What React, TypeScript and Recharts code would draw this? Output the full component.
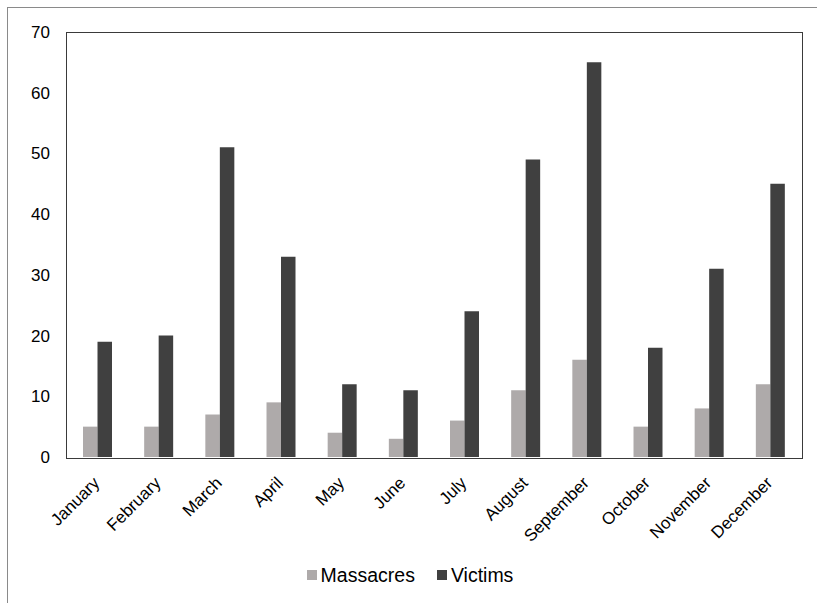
import { BarChart, Bar, XAxis, YAxis, Legend } from 'recharts';

const months = ['January', 'February', 'March', 'April', 'May', 'June', 'July', 'August', 'September', 'October', 'November', 'December'];
const massacres = [5, 5, 7, 9, 4, 3, 6, 11, 16, 5, 8, 12];
const victims = [19, 20, 51, 33, 12, 11, 24, 49, 65, 18, 31, 45];
const yTicks = [0, 10, 20, 30, 40, 50, 60, 70];

const data = months.map((month, i) => ({ month, massacres: massacres[i], victims: victims[i] }));

const font = 'Liberation Sans, Arial, sans-serif';
const frame = '#3a3a3a';

// plot box: left 67, top 32, right 801, bottom 457
const margin = { top: 32, right: 16, bottom: 16, left: 0 };

function MonthTick({ x, y, payload }: any) {
  return (
    <g transform={`translate(${x + 3},${y + 19})`}>
      <text x={0} y={0} textAnchor="end" fill="#000" fontSize={17} fontFamily={font} transform="rotate(-45)">
        {payload.value}
      </text>
    </g>
  );
}

function LegendRow({ payload }: any) {
  return (
    <div style={{ display: 'flex', justifyContent: 'center', gap: 22, paddingLeft: 19, height: 24, alignItems: 'center' }}>
      {(payload || []).map((item: any) => (
        <div key={item.value} style={{ display: 'flex', alignItems: 'center', gap: 4 }}>
          <span style={{ width: 10, height: 10, background: item.color, display: 'inline-block' }} />
          <span style={{ color: '#000', fontSize: 19.5, fontFamily: font, lineHeight: '24px' }}>{item.value}</span>
        </div>
      ))}
    </div>
  );
}

export default function App() {
  return (
    <div style={{ position: 'absolute', left: 0, top: 0, width: 817, height: 603, overflow: 'hidden', background: '#fff' }}>
      {/* outer chart frame, runs off the right and bottom edges */}
      <div style={{ position: 'absolute', left: 7, top: 7, width: 900, height: 700, border: '1px solid #8a8a8a' }} />
      <div style={{ position: 'absolute', left: 0, top: 0 }}>
        <BarChart width={817} height={603} data={data} margin={margin} barGap={0} barSize={14.5}>
          <XAxis dataKey="month" interval={0} tickLine={false} axisLine={false} height={106} tick={<MonthTick />} />
          <YAxis domain={[0, 70]} ticks={yTicks} width={67} tickSize={0} tickMargin={17} axisLine={false} tick={{ fill: '#000', fontSize: 17, fontFamily: font }} />
          <Legend verticalAlign="bottom" content={<LegendRow />} />
          <Bar dataKey="massacres" name="Massacres" fill="#aeaaaa" isAnimationActive={false} />
          <Bar dataKey="victims" name="Victims" fill="#404040" isAnimationActive={false} />
        </BarChart>
      </div>
      {/* plot area border */}
      <div style={{ position: 'absolute', left: 66, top: 32, width: 735, height: 425, border: `1.3px solid ${frame}`, pointerEvents: 'none' }} />
    </div>
  );
}
